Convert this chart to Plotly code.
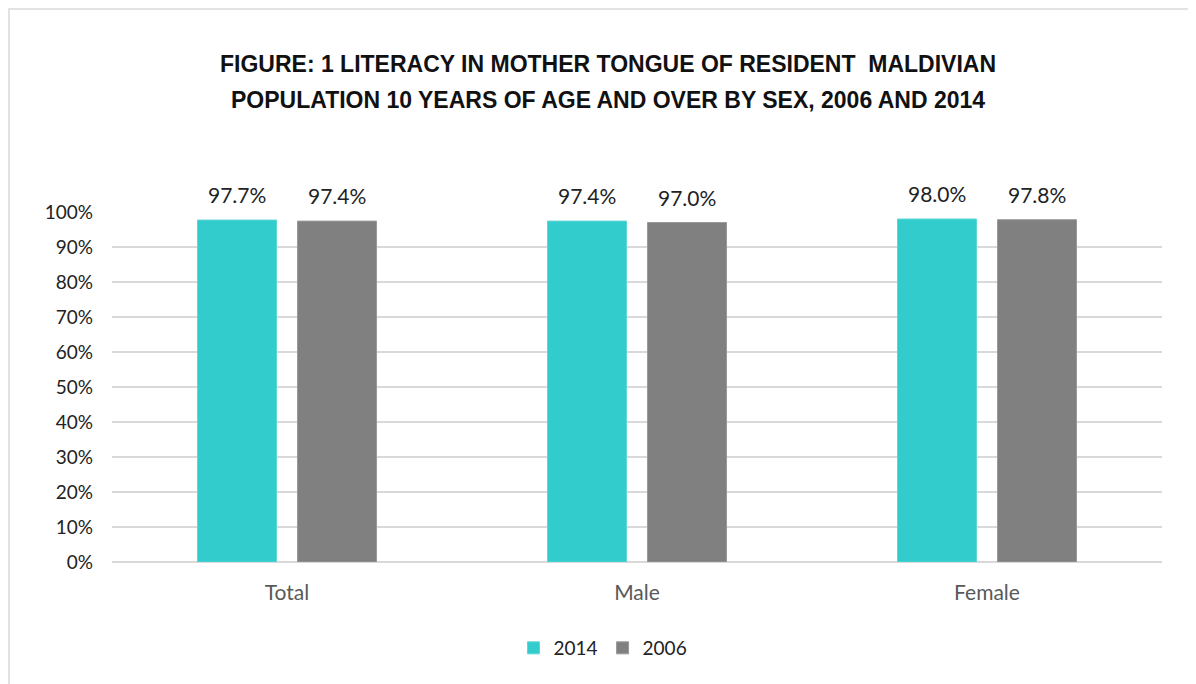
import plotly.graph_objects as go

categories = ["Total", "Male", "Female"]
series_2014 = [0.977, 0.974, 0.980]
series_2006 = [0.974, 0.970, 0.978]
series_names = ["2014", "2006"]
tick_vals = [0, 0.1, 0.2, 0.3, 0.4, 0.5, 0.6, 0.7, 0.8, 0.9, 1.0]
title_lines = ["FIGURE: 1 LITERACY IN MOTHER TONGUE OF RESIDENT  MALDIVIAN",
               "POPULATION 10 YEARS OF AGE AND OVER BY SEX, 2006 AND 2014"]

FONT = "Lato, Liberation Sans, sans-serif"
TFONT = "Liberation Sans Narrow, Liberation Sans, sans-serif"

fig = go.Figure()
fig.add_trace(go.Bar(
    x=categories, y=series_2014, name=series_names[0],
    marker=dict(color="#33CCCC", line=dict(color="#5ED6D6", width=1)),
))
fig.add_trace(go.Bar(
    x=categories, y=series_2006, name=series_names[1],
    marker=dict(color="#808080", line=dict(color="#999999", width=1)),
))

# data labels above each bar (grouped bars offset by +/- half a slot)
for vals, shift in ((series_2014, -50), (series_2006, 50)):
    for c, v in zip(categories, vals):
        fig.add_annotation(x=c, y=v, xref="x", yref="y", text=f"{v*100:.1f}%",
                           showarrow=False, xshift=shift, yshift=11,
                           yanchor="bottom", xanchor="center",
                           font=dict(family=FONT, size=21, color="#222222"))

# title as two lines
for line, yp in zip(title_lines, (1.4229, 1.32)):
    fig.add_annotation(x=0.4724, y=yp, xref="paper", yref="paper", text=line,
                       showarrow=False, xanchor="center", yanchor="middle",
                       font=dict(family=TFONT, size=23, color="#111111", weight="bold"))

fig.update_layout(
    width=1188, height=676,
    margin=dict(l=104, r=34, t=204, b=122),
    paper_bgcolor="white", plot_bgcolor="white",
    barmode="group", bargap=0.4286, bargroupgap=0.21,
    legend=dict(orientation="h", x=0.4676, xanchor="center", y=-0.2457, yanchor="middle",
                font=dict(family=FONT, size=19, color="#222222"),
                itemwidth=30, traceorder="normal"),
    font=dict(family=FONT),
    showlegend=True,
)
fig.update_yaxes(range=[0, 1], tickvals=tick_vals, tickformat=".0%",
                 showgrid=True, gridcolor="#D9D9D9", gridwidth=1.5,
                 zeroline=True, zerolinecolor="#D9D9D9", zerolinewidth=1.5,
                 showline=False, ticks="", ticklabelstandoff=18,
                 tickfont=dict(family=FONT, size=19, color="#222222"))
fig.update_xaxes(showline=False, ticks="", ticklabelstandoff=16,
                 tickfont=dict(family=FONT, size=21, color="#595959"))

# chart border
fig.add_shape(type="rect", xref="paper", yref="paper",
              x0=-0.0981, x1=1.2, y0=-0.5, y1=1.58,
              line=dict(color="#D9D9D9", width=1.5), fillcolor="rgba(0,0,0,0)",
              layer="below")

fig.write_html("out.html")
